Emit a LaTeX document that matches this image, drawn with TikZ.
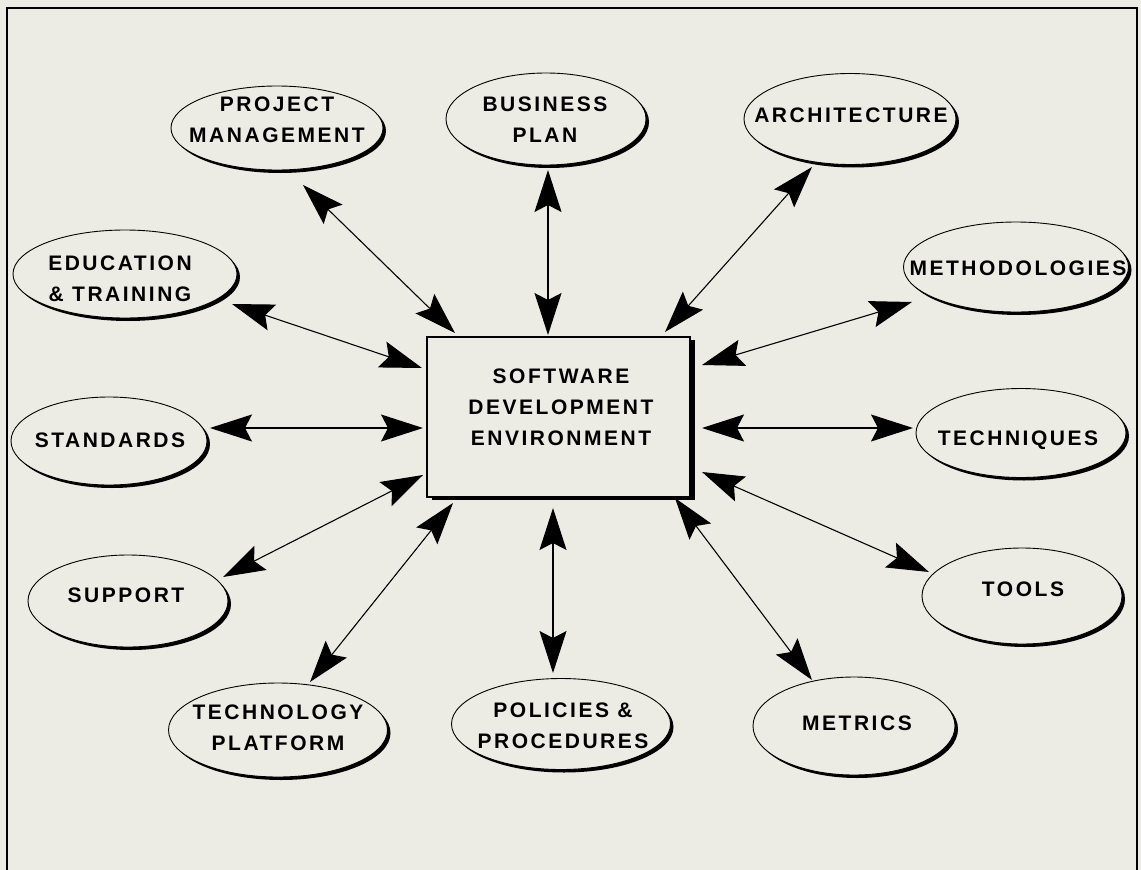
\documentclass[tikz,border=0pt]{standalone}
\usepackage{fontspec}
\newfontfamily\lblfont{Liberation Sans}[LetterSpace=12]
\usetikzlibrary{arrows.meta,calc,shapes.geometric,shadows}
\definecolor{bg}{RGB}{236,236,229}
\tikzset{
  bubble/.style={ellipse, draw, line width=0.9pt, fill=bg, inner sep=0pt,
    drop shadow={shadow xshift=3pt, shadow yshift=-3pt, fill=black, opacity=1}},
  centrebox/.style={rectangle, draw, line width=1.3pt, fill=bg, inner sep=0pt,
    drop shadow={shadow xshift=5pt, shadow yshift=-3pt, fill=black, opacity=1}},
  lbl/.style={font=\lblfont\bfseries\fontsize{21}{31}\selectfont, align=center, inner sep=0pt},
  arr/.style={{Stealth[length=42pt, width=27pt, inset=7pt]}-{Stealth[length=42pt, width=27pt, inset=7pt]}, line width=1.1pt},
  frameline/.style={line width=1.6pt}
}
\begin{document}
\begin{tikzpicture}[x=1pt, y=-1pt]
\useasboundingbox (0,0) rectangle (1141,870);
\fill[bg] (0,0) rectangle (1141,870);
\draw[frameline] (7,870) -- (7,8) -- (1137,8) -- (1137,870);

% centre box
\node[centrebox, minimum width=263pt, minimum height=160pt] (sde) at (558.5,417) {};
\node[lbl] (sdet) at (561,407) {SOFTWARE\\DEVELOPMENT\\ENVIRONMENT};

% ellipses
\node[bubble, minimum width=212pt, minimum height=84pt] (pm) at (277,128) {};
\node[lbl] (pmt) at (277,120) {PROJECT\\MANAGEMENT};

\node[bubble, minimum width=200pt, minimum height=92pt] (bp) at (546,119) {};
\node[lbl] (bpt) at (545,120) {BUSINESS\\PLAN};

\node[bubble, minimum width=212pt, minimum height=91pt] (arch) at (850,119) {};
\node[lbl] (archt) at (851,115) {ARCHITECTURE};

\node[bubble, minimum width=224pt, minimum height=88pt] (edu) at (125,274) {};
\node[lbl] (edut) at (120,279) {EDUCATION\\\& TRAINING};

\node[bubble, minimum width=225pt, minimum height=90pt] (meth) at (1016,267) {};
\node[lbl] (metht) at (1018,268) {METHODOLOGIES};

\node[bubble, minimum width=196pt, minimum height=88pt] (std) at (109,441) {};
\node[lbl] (stdt) at (110,440) {STANDARDS};

\node[bubble, minimum width=210pt, minimum height=89pt] (tech) at (1021,433) {};
\node[lbl] (techt) at (1018,440) {TECHNIQUES};

\node[bubble, minimum width=200pt, minimum height=92pt] (sup) at (128,601) {};
\node[lbl] (supt) at (126,595) {SUPPORT};

\node[bubble, minimum width=200pt, minimum height=96pt] (tools) at (1022,596) {};
\node[lbl] (toolst) at (1023,589) {TOOLS};

\node[bubble, minimum width=219pt, minimum height=94pt] (tp) at (278,730) {};
\node[lbl] (tpt) at (278,728) {TECHNOLOGY\\PLATFORM};

\node[bubble, minimum width=219pt, minimum height=91pt] (pol) at (561,724) {};
\node[lbl] (polt) at (563,726) {POLICIES \&\\PROCEDURES};

\node[bubble, minimum width=202pt, minimum height=98pt] (met) at (854,726) {};
\node[lbl] (mett) at (857,723) {METRICS};

% connectors
\draw[arr] ($(pm)+(26,57)$)     -- ($(sde)+(-103.5,-84)$);
\draw[arr] ($(bp)+(2,51)$)      -- ($(sde)+(-10.5,-82)$);
\draw[arr] ($(arch)+(-38,48)$)  -- ($(sde)+(106.5,-85)$);
\draw[arr] ($(edu)+(107,30)$)   -- ($(sde)+(-136.5,-49)$);
\draw[arr] ($(meth)+(-104,35)$) -- ($(sde)+(143.5,-52)$);
\draw[arr] ($(std)+(101,-13)$)  -- ($(sde)+(-135.5,11)$);
\draw[arr] ($(tech)+(-108,-5)$) -- ($(sde)+(143.5,11)$);
\draw[arr] ($(sup)+(95,-24)$)   -- ($(sde)+(-135.5,58)$);
\draw[arr] ($(tools)+(-93,-24)$) -- ($(sde)+(143.5,55)$);
\draw[arr] ($(tp)+(32,-48)$)    -- ($(sde)+(-105.5,86)$);
\draw[arr] ($(pol)+(-8,-51)$)   -- ($(sde)+(-5.5,91)$);
\draw[arr] ($(met)+(-42,-46)$)  -- ($(sde)+(116.5,81)$);
\end{tikzpicture}
\end{document}
